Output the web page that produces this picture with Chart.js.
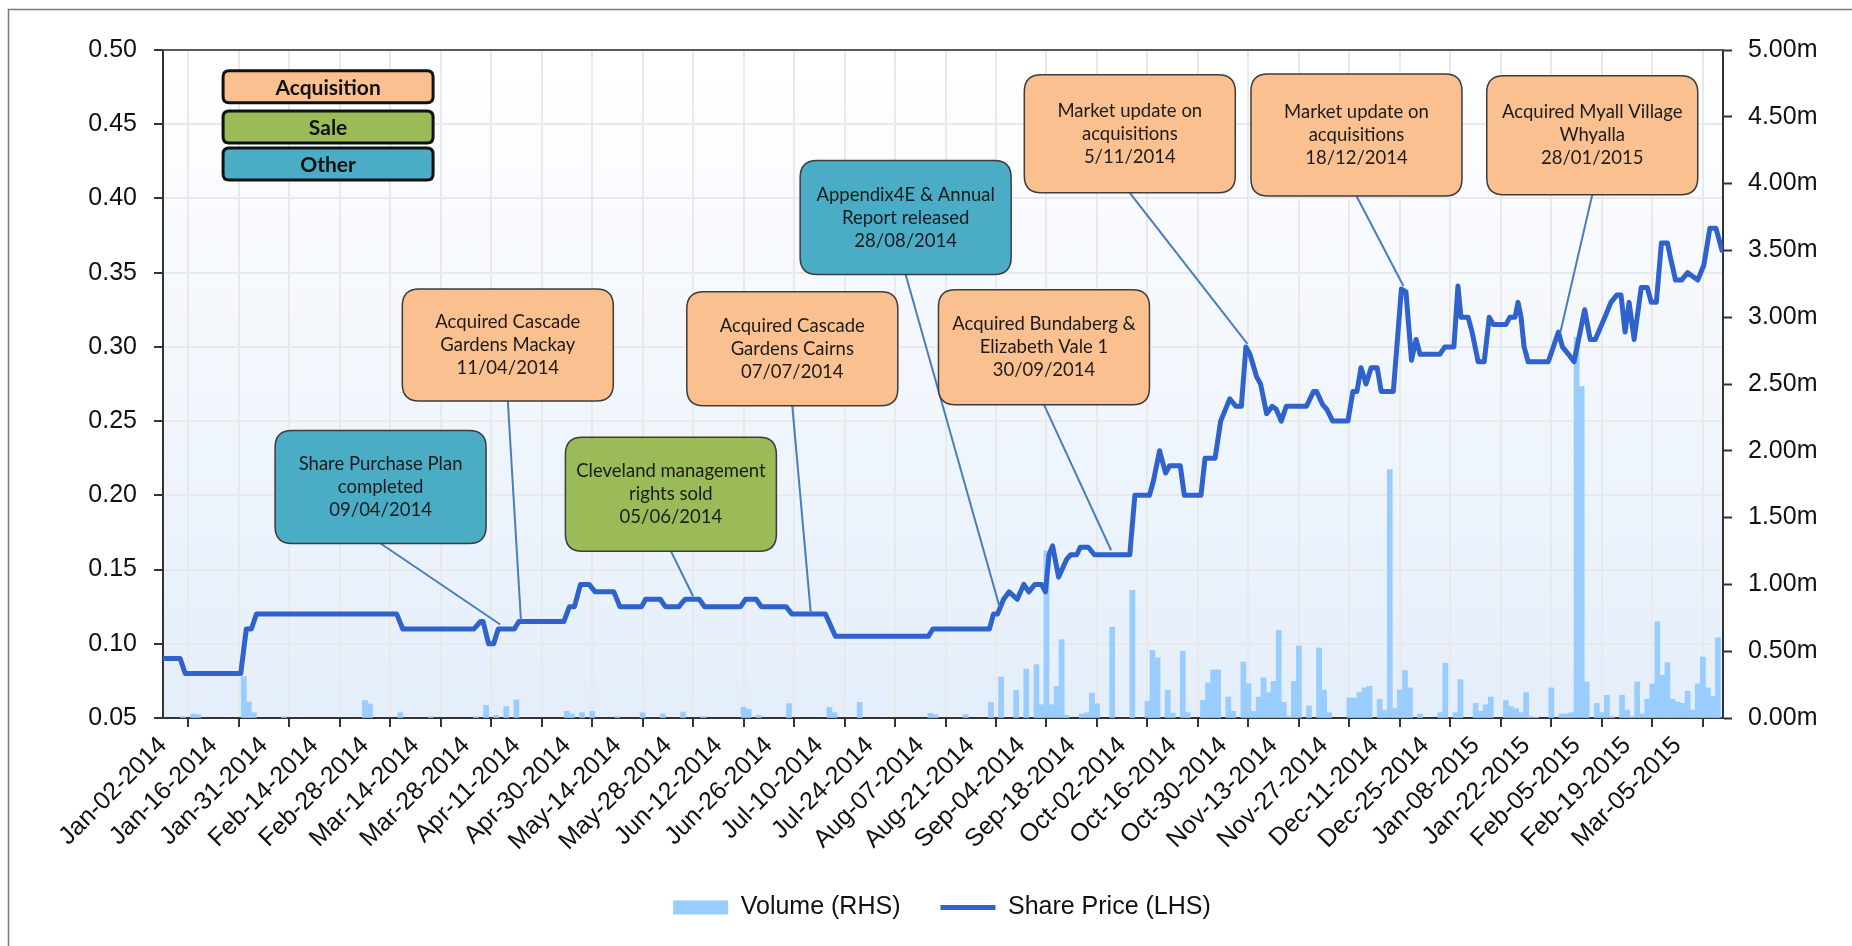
<!DOCTYPE html>
<html>
<head>
<meta charset="utf-8">
<title>Share price and volume</title>
<script src="https://cdn.jsdelivr.net/npm/chart.js@4.4.1/dist/chart.umd.min.js"></script>
<style>
  html, body { margin: 0; padding: 0; background: #fff; }
</style>
</head>
<body>
<canvas id="chart" width="1852" height="946"></canvas>
<script>
// Tick labels on the x axis, one every 10 trading days
const tickLabels = [
  'Jan-02-2014', 'Jan-16-2014', 'Jan-31-2014', 'Feb-14-2014', 'Feb-28-2014', 'Mar-14-2014',
  'Mar-28-2014', 'Apr-11-2014', 'Apr-30-2014', 'May-14-2014', 'May-28-2014', 'Jun-12-2014',
  'Jun-26-2014', 'Jul-10-2014', 'Jul-24-2014', 'Aug-07-2014', 'Aug-21-2014', 'Sep-04-2014',
  'Sep-18-2014', 'Oct-02-2014', 'Oct-16-2014', 'Oct-30-2014', 'Nov-13-2014', 'Nov-27-2014',
  'Dec-11-2014', 'Dec-25-2014', 'Jan-08-2015', 'Jan-22-2015', 'Feb-05-2015', 'Feb-19-2015',
  'Mar-05-2015'
];
const lastDay = 309;

// Share price (LHS): trading day index and price where the line turns
const priceDays = [
  0, 3.4, 4.4, 15.4, 16.5, 17.5, 18.5, 46.3, 47.5, 61.6, 62.9, 63.4, 64.5, 65.5, 66.4, 69.6,
  70.5, 79.4, 80.5, 81.5, 82.7, 84.4, 85.6, 89.3, 90.5, 94.8, 95.6, 98.5, 99.5, 102.2, 103.4,
  106.2, 107.3, 114.4, 115.4, 117.5, 118.5, 123.4, 124.6, 131.2, 133.2, 151.6, 152.5, 163.7,
  164.5, 165.3, 166.5, 167.6, 169.2, 170.5, 171.5, 172.7, 174.0, 174.8, 175.5, 176.2, 177.4,
  179.0, 179.8, 181.0, 181.7, 183.3, 184.5, 191.5, 192.5, 195.4, 196.2, 197.4, 198.6, 199.4,
  201.5, 202.3, 205.6, 206.4, 208.4, 209.5, 211.3, 212.5, 213.6, 214.5, 215.3, 216.6, 217.4,
  218.0, 218.6, 219.7, 220.5, 221.5, 222.5, 226.5, 227.9, 228.5, 229.7, 230.5, 231.7, 234.7,
  235.7, 236.5, 237.3, 238.3, 239.3, 240.5, 241.3, 243.7, 245.3, 246.2, 247.3, 248.2, 249.0,
  252.9, 253.9, 255.7, 256.5, 257.1, 258.5, 259.3, 260.5, 261.7, 262.7, 263.5, 266.0, 266.8,
  267.8, 268.4, 269.0, 269.6, 270.4, 274.4, 276.4, 277.2, 278.4, 279.5, 281.6, 282.7, 283.7,
  285.6, 286.8, 288.0, 288.8, 289.6, 290.4, 291.4, 292.8, 294.0, 294.8, 295.8, 296.8, 298.0,
  298.6, 299.6, 300.8, 302.0, 304.0, 305.2, 306.4, 307.6, 308.8, 309
];
const prices = [
  0.09, 0.09, 0.08, 0.08, 0.11, 0.11, 0.12, 0.12, 0.11, 0.11, 0.115, 0.115, 0.10, 0.10, 0.11, 0.11,
  0.115, 0.115, 0.125, 0.125, 0.14, 0.14, 0.135, 0.135, 0.125, 0.125, 0.13, 0.13, 0.125, 0.125, 0.13,
  0.13, 0.125, 0.125, 0.13, 0.13, 0.125, 0.125, 0.12, 0.12, 0.105, 0.105, 0.11, 0.11,
  0.12, 0.12, 0.13, 0.135, 0.13, 0.14, 0.135, 0.14, 0.14, 0.135, 0.16, 0.166, 0.145,
  0.157, 0.16, 0.16, 0.165, 0.165, 0.16, 0.16, 0.20, 0.20, 0.21, 0.23, 0.215, 0.22,
  0.22, 0.20, 0.20, 0.225, 0.225, 0.25, 0.265, 0.26, 0.26, 0.30, 0.295, 0.28, 0.275,
  0.265, 0.255, 0.26, 0.258, 0.25, 0.26, 0.26, 0.27, 0.27, 0.261, 0.258, 0.25, 0.25,
  0.27, 0.27, 0.286, 0.275, 0.286, 0.286, 0.27, 0.27, 0.339, 0.337, 0.291, 0.305, 0.295,
  0.295, 0.30, 0.30, 0.341, 0.32, 0.32, 0.31, 0.29, 0.29, 0.32, 0.315, 0.315, 0.32,
  0.32, 0.33, 0.32, 0.30, 0.29, 0.29, 0.31, 0.30, 0.295, 0.29, 0.325, 0.305, 0.305,
  0.32, 0.33, 0.335, 0.335, 0.31, 0.33, 0.305, 0.34, 0.34, 0.33, 0.33, 0.37, 0.37,
  0.36, 0.345, 0.345, 0.35, 0.345, 0.355, 0.38, 0.38, 0.365, 0.365
];

// Volume (RHS), millions of shares, trading days with a visible bar
const volumeDays = [
  4, 6, 7, 16, 17, 18, 24, 40, 41, 47, 53, 62, 64, 66, 68, 70, 80, 81, 83, 85, 90, 95, 99, 103,
  107, 115, 116, 118, 124, 132, 133, 138, 152, 153, 159, 164, 166, 169, 171, 173, 174, 175, 176,
  177, 178, 179, 182, 183, 184, 185, 188, 192, 195, 196, 197, 199, 200, 202, 203, 206, 207, 208,
  209, 211, 212, 214, 215, 216, 217, 218, 219, 220, 221, 222, 223, 224, 225, 227, 229, 230, 231,
  235, 236, 237, 238, 239, 241, 242, 243, 244, 245, 246, 247, 249, 253, 254, 256, 257, 260, 261,
  262, 263, 266, 267, 268, 269, 270, 271, 272, 275, 277, 278, 279, 280, 281, 282, 284, 285, 286,
  287, 289, 290, 291, 292, 293, 294, 295, 296, 297, 298, 299, 300, 301, 302, 303, 304, 305, 306,
  307, 308
];
const volumes = [
  0.01, 0.03, 0.025, 0.31, 0.12, 0.04, 0.01, 0.13, 0.105, 0.04, 0.01, 0.01, 0.095, 0.02, 0.085, 0.135, 0.05, 0.03, 0.04, 0.05, 0.01, 0.04, 0.03, 0.045,
  0.01, 0.08, 0.065, 0.02, 0.107, 0.08, 0.04, 0.117, 0.035, 0.025, 0.025, 0.117, 0.307, 0.207, 0.367, 0.40, 0.10, 1.25, 0.10,
  0.237, 0.586, 0.02, 0.03, 0.04, 0.187, 0.107, 0.68, 0.955, 0.125, 0.506, 0.45, 0.207, 0.037, 0.50, 0.04, 0.132, 0.262, 0.36,
  0.36, 0.157, 0.05, 0.42, 0.257, 0.05, 0.157, 0.30, 0.19, 0.274, 0.656, 0.117, 0.01, 0.274, 0.54, 0.09, 0.524, 0.21, 0.04,
  0.15, 0.15, 0.19, 0.225, 0.237, 0.14, 0.06, 1.86, 0.074, 0.21, 0.356, 0.225, 0.03, 0.04, 0.41, 0.04, 0.287, 0.11, 0.05,
  0.10, 0.157, 0.13, 0.085, 0.07, 0.04, 0.19, 0.01, 0.005, 0.225, 0.03, 0.03, 0.04, 2.85, 2.48, 0.27, 0.11, 0.04, 0.17,
  0.01, 0.17, 0.06, 0.01, 0.27, 0.03, 0.14, 0.255, 0.72, 0.32, 0.415, 0.14, 0.12, 0.11, 0.20, 0.06, 0.255, 0.456, 0.225,
  0.16, 0.60
];

// Event call-outs: text, type, box centre (day, price) and the point the leader goes to
const events = [
  { lines: ['Share Purchase Plan', 'completed', '09/04/2014'], kind: 'other', boxDay: 43.1, boxPrice: 0.2056, h: 113, day: 66.8, price: 0.113 },
  { lines: ['Acquired Cascade', 'Gardens Mackay', '11/04/2014'], kind: 'acq', boxDay: 68.3, boxPrice: 0.3013, h: 112, day: 70.9, price: 0.116 },
  { lines: ['Cleveland management', 'rights sold', '05/06/2014'], kind: 'sale', boxDay: 100.6, boxPrice: 0.2008, h: 114, day: 105, price: 0.132 },
  { lines: ['Acquired Cascade', 'Gardens Cairns', '07/07/2014'], kind: 'acq', boxDay: 124.65, boxPrice: 0.2987, h: 114, day: 128.3, price: 0.121 },
  { lines: ['Appendix4E & Annual', 'Report released', '28/08/2014'], kind: 'other', boxDay: 147.1, boxPrice: 0.3871, h: 114, day: 165.7, price: 0.125 },
  { lines: ['Acquired Bundaberg &', 'Elizabeth Vale 1', '30/09/2014'], kind: 'acq', boxDay: 174.5, boxPrice: 0.2998, h: 115, day: 187.8, price: 0.163 },
  { lines: ['Market update on', 'acquisitions', '5/11/2014'], kind: 'acq', boxDay: 191.5, boxPrice: 0.4435, h: 118, day: 214.8, price: 0.302 },
  { lines: ['Market update on', 'acquisitions', '18/12/2014'], kind: 'acq', boxDay: 236.4, boxPrice: 0.4427, h: 122, day: 245.7, price: 0.341 },
  { lines: ['Acquired Myall Village', 'Whyalla', '28/01/2015'], kind: 'acq', boxDay: 283.1, boxPrice: 0.4426, h: 119, day: 276.8, price: 0.31 }
];
const keyItems = [
  { label: 'Acquisition', kind: 'acq', price: 0.4752 },
  { label: 'Sale', kind: 'sale', price: 0.4481 },
  { label: 'Other', kind: 'other', price: 0.4232 }
];
const keyDay = 32.7;

const kindColors = { acq: '#fac08f', sale: '#9bbb59', other: '#4bacc6' };
const tickFont = { family: 'Liberation Sans, Arial, sans-serif', size: 25 };

const pricePoints = priceDays.map((d, i) => ({ x: d, y: prices[i] }));
const volumePoints = volumeDays.map((d, i) => ({ x: d, y: volumes[i] }));

function roundRect(ctx, x, y, w, h, r) {
    ctx.beginPath();
    ctx.moveTo(x + r, y);
    ctx.lineTo(x + w - r, y);
    ctx.quadraticCurveTo(x + w, y, x + w, y + r);
    ctx.lineTo(x + w, y + h - r);
    ctx.quadraticCurveTo(x + w, y + h, x + w - r, y + h);
    ctx.lineTo(x + r, y + h);
    ctx.quadraticCurveTo(x, y + h, x, y + h - r);
    ctx.lineTo(x, y + r);
    ctx.quadraticCurveTo(x, y, x + r, y);
    ctx.closePath();
}

// Frame and gradient behind the plot
const backgroundPlugin = {
    id: 'plotBackground',
    afterLayout(chart) {
        // legend sits a little right of centre in the original
        chart.legend.left += 16;
        chart.legend.right += 16;
    },
    beforeDraw(chart) {
        const { ctx, chartArea: a } = chart;
        ctx.save();
        ctx.strokeStyle = '#7a7a7a';
        ctx.lineWidth = 1.5;
        ctx.beginPath();
        ctx.moveTo(8.5, chart.height);
        ctx.lineTo(8.5, 9.5);
        ctx.lineTo(chart.width, 9.5);
        ctx.stroke();
        const g = ctx.createLinearGradient(0, a.top, 0, a.bottom);
        g.addColorStop(0, '#ffffff');
        g.addColorStop(1, '#e4eefa');
        ctx.fillStyle = g;
        ctx.fillRect(a.left, a.top, a.right - a.left, a.bottom - a.top);
        ctx.restore();
    }
};

// Call-out boxes, leader lines and the colour key
const calloutPlugin = {
    id: 'callouts',
    afterDraw(chart) {
        const { ctx, chartArea: a } = chart;
        const xs = chart.scales.x;
        const ys = chart.scales.y;
        ctx.save();

        // top border of the plot
        ctx.strokeStyle = '#5a5a5a';
        ctx.lineWidth = 2;
        ctx.beginPath();
        ctx.moveTo(a.left, a.top);
        ctx.lineTo(a.right, a.top);
        ctx.stroke();

        const boxW = 211;
        events.forEach(ev => {
            const cx = xs.getPixelForValue(ev.boxDay);
            const cy = ys.getPixelForValue(ev.boxPrice);
            ctx.strokeStyle = '#4a7ebb';
            ctx.lineWidth = 2;
            ctx.beginPath();
            ctx.moveTo(cx, cy + ev.h / 2);
            ctx.lineTo(xs.getPixelForValue(ev.day), ys.getPixelForValue(ev.price));
            ctx.stroke();

            roundRect(ctx, cx - boxW / 2, cy - ev.h / 2, boxW, ev.h, 17);
            ctx.fillStyle = kindColors[ev.kind];
            ctx.fill();
            ctx.strokeStyle = '#3c3c3c';
            ctx.lineWidth = 1.5;
            ctx.stroke();

            ctx.fillStyle = '#1c1c1c';
            ctx.font = '18.5px Lato, sans-serif';
            ctx.textAlign = 'center';
            ctx.textBaseline = 'middle';
            ev.lines.forEach((line, i) => {
                ctx.fillText(line, cx, cy + (i - (ev.lines.length - 1) / 2) * 23);
            });
        });

        keyItems.forEach(item => {
            const cx = xs.getPixelForValue(keyDay);
            const cy = ys.getPixelForValue(item.price);
            roundRect(ctx, cx - 105, cy - 16, 210, 32, 6);
            ctx.fillStyle = kindColors[item.kind];
            ctx.fill();
            ctx.strokeStyle = '#111';
            ctx.lineWidth = 3;
            ctx.stroke();
            ctx.fillStyle = '#111';
            ctx.font = 'bold 21px Lato, sans-serif';
            ctx.textAlign = 'center';
            ctx.textBaseline = 'middle';
            ctx.fillText(item.label, cx, cy + 1);
        });
        ctx.restore();
    }
};

new Chart(document.getElementById('chart'), {
    type: 'bar',
    data: {
        datasets: [
            {
                type: 'bar',
                label: 'Volume (RHS)',
                data: volumePoints,
                yAxisID: 'y1',
                backgroundColor: '#99ccff',
                borderWidth: 0,
                barPercentage: 1,
                categoryPercentage: 1,
                pointStyle: 'rect',
                order: 2
            },
            {
                type: 'line',
                label: 'Share Price (LHS)',
                data: pricePoints,
                yAxisID: 'y',
                borderColor: '#2f62cc',
                backgroundColor: '#2f62cc',
                borderWidth: 5,
                borderJoinStyle: 'round',
                pointRadius: 0,
                pointStyle: 'line',
                tension: 0,
                order: 1
            }
        ]
    },
    options: {
        responsive: false,
        animation: false,
        layout: { padding: { top: 50, bottom: 16 } },
        plugins: {
            legend: {
                position: 'bottom',
                labels: {
                    usePointStyle: true,
                    pointStyleWidth: 55,
                    boxHeight: 14,
                    padding: 40,
                    color: '#111',
                    font: tickFont,
                    sort: (a, b) => a.datasetIndex - b.datasetIndex
                }
            },
            tooltip: { enabled: false }
        },
        scales: {
            x: {
                type: 'linear',
                min: 0,
                max: lastDay,
                offset: false,
                afterBuildTicks: s => { s.ticks = tickLabels.map((_, i) => ({ value: i * 10 })); },
                afterFit: s => { s.height = s.chart.height - 16 - s.chart.legend.height - 718; },
                grid: { color: '#e9e9e9', lineWidth: 2, tickLength: 9, tickColor: '#333', tickWidth: 2 },
                border: { color: '#333', width: 2 },
                ticks: {
                    autoSkip: false,
                    maxRotation: 45,
                    minRotation: 45,
                    padding: 4,
                    color: '#111',
                    font: tickFont,
                    callback: v => tickLabels[Math.round(v / 10)] || ''
                }
            },
            y: {
                position: 'left',
                min: 0.05,
                max: 0.5,
                afterFit: s => { s.width = 163; },
                grid: { color: '#e9e9e9', lineWidth: 2, tickLength: 9, tickColor: '#333', tickWidth: 2 },
                border: { color: '#333', width: 2 },
                ticks: { stepSize: 0.05, padding: 17, color: '#111', font: tickFont, callback: v => v.toFixed(2) }
            },
            y1: {
                position: 'right',
                min: 0,
                max: 5,
                afterFit: s => { s.width = 129; },
                grid: { drawOnChartArea: false, tickLength: 9, tickColor: '#333', tickWidth: 2 },
                border: { color: '#333', width: 2 },
                ticks: { stepSize: 0.5, padding: 16, color: '#111', font: tickFont, callback: v => v.toFixed(2) + 'm' }
            }
        }
    },
    plugins: [backgroundPlugin, calloutPlugin]
});
</script>
</body>
</html>
